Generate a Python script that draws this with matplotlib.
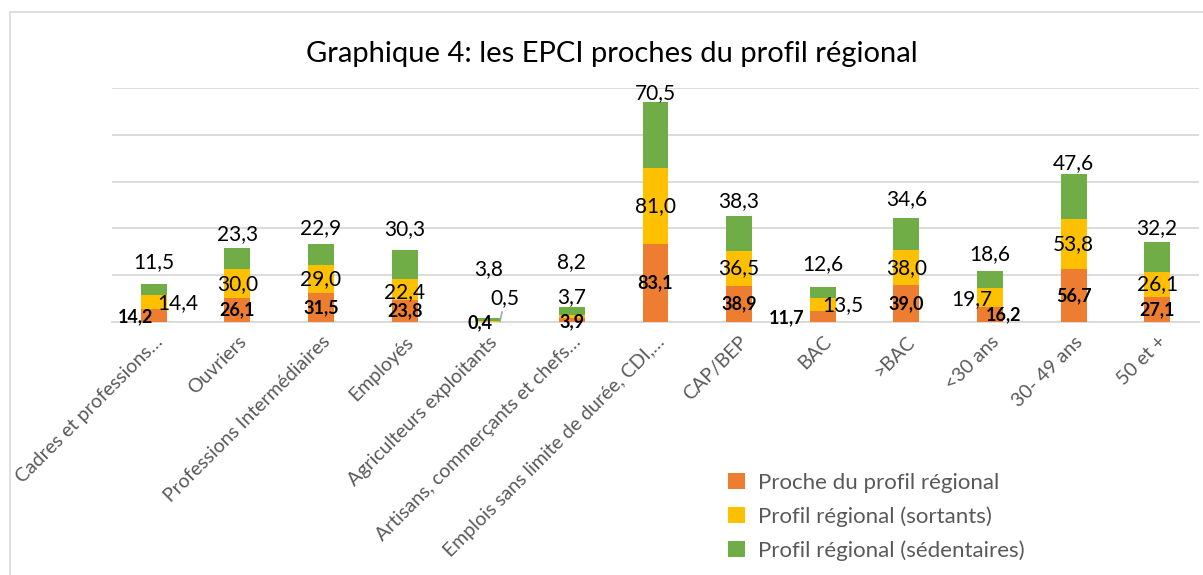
import matplotlib
matplotlib.use("Agg")
import matplotlib.pyplot as plt
from matplotlib.patches import Rectangle, Patch
import numpy as np

plt.rcParams['font.family'] = ['Lato', 'DejaVu Sans']

categories = ["Cadres et professions…", "Ouvriers", "Professions Intermédiaires", "Employés",
              "Agriculteurs exploitants", "Artisans, commerçants et chefs…",
              "Emplois sans limite de durée, CDI,…", "CAP/BEP", "BAC", ">BAC",
              "<30 ans", "30- 49 ans", "50 et +"]
proche = [14.2, 26.1, 31.5, 23.8, 0.4, 3.9, 83.1, 38.9, 11.7, 39.0, 16.2, 56.7, 27.1]
sortants = [14.4, 30.0, 29.0, 22.4, 0.5, 3.7, 81.0, 36.5, 13.5, 38.0, 19.7, 53.8, 26.1]
sedentaires = [11.5, 23.3, 22.9, 30.3, 3.8, 8.2, 70.5, 38.3, 12.6, 34.6, 18.6, 47.6, 32.2]
series_names = ["Proche du profil régional", "Profil régional (sortants)", "Profil régional (sédentaires)"]
colors = ["#ED7D31", "#FFC000", "#70AD47"]

# manual label displacements (pixels: dx right, dy down) for labels moved in the original
label_shift = {
    (0, 0): (-18, 1), (0, 1): (24, 1), (0, 2): (0, -8),
    (4, 0): (-8, 1), (4, 1): (5, -24), (4, 2): (0, -35),
    (5, 0): (0, 2), (5, 1): (0, -20), (5, 2): (0, -31),
    (8, 0): (-36, 1), (8, 1): (20, 0), (8, 2): (0, -9),
    (10, 0): (14, 0), (10, 1): (-18, 1), (10, 2): (0, -3),
    (1, 1): (0, 1), (3, 1): (0, 3), (3, 2): (0, -7), (2, 2): (0, -2),
    (6, 2): (0, 5), (9, 2): (0, -4), (11, 2): (0, 3),
}

W, H = 1203, 575
fig = plt.figure(figsize=(W / 100, H / 100), dpi=100)
fig.patches.append(Rectangle((10 / W, -0.1), 1.2, 1 - 12 / H + 0.1, transform=fig.transFigure,
                             fill=False, edgecolor="#D9D9D9", linewidth=1.2))

ax = fig.add_axes([112 / W, 1 - 322 / H, (1199 - 112) / W, (322 - 88) / H])
x = np.arange(len(categories))
width = 0.31
bottom = np.zeros(len(categories))
data = [proche, sortants, sedentaires]
for si, vals in enumerate(data):
    vals = np.array(vals)
    ax.bar(x, vals, width, bottom=bottom, color=colors[si], label=series_names[si], zorder=3)
    for i, v in enumerate(vals):
        txt = f"{v:.1f}".replace(".", ",")
        if si < 2:
            yv = bottom[i] + v / 2
            base_dy = 0
        else:
            yv = bottom[i] + v
            base_dy = -14
        dx, dy = label_shift.get((i, si), (0, 0))
        kw = dict(ha="center", va="center", fontsize=15 if si > 0 else 13,
                  fontweight="bold" if si == 0 else "normal", color="black", zorder=5,
                  textcoords="offset points")
        if (i, si) == (4, 1):
            ax.annotate(txt, xy=(i + 0.14, 0.3),
                        xytext=(dx * 0.72, -(dy + base_dy) * 0.72),
                        arrowprops=dict(arrowstyle="-", color="#A6A6A6", lw=1.2,
                                        shrinkA=1, shrinkB=0), **kw)
        else:
            ax.annotate(txt, xy=(i, yv), xytext=(dx * 0.72, -(dy + base_dy) * 0.72), **kw)
    bottom += vals

ax.set_ylim(0, 250)
ax.set_xlim(-0.5, len(categories) - 0.5)
ax.set_yticks(np.arange(0, 251, 50))
ax.yaxis.grid(True, color="#D9D9D9", linewidth=1.3, zorder=0)
ax.tick_params(axis="y", length=0, labelleft=False)
ax.tick_params(axis="x", length=0, pad=8, colors="#595959")
for s in ["top", "right", "left"]:
    ax.spines[s].set_visible(False)
ax.spines["bottom"].set_color("#D9D9D9")
ax.spines["bottom"].set_linewidth(1.3)
ax.set_xticks(x)
ax.set_xticklabels(categories, rotation=45, ha="right", rotation_mode="anchor",
                   fontsize=14, color="#595959")

fig.text(612 / W, 1 - 54 / H, "Graphique 4: les EPCI proches du profil régional",
         ha="center", va="center", fontsize=21, color="black")

handles = [Patch(facecolor=c, edgecolor="none") for c in colors]
fig.legend(handles, series_names, loc="upper left", bbox_to_anchor=(708 / W, 1 - 453 / H),
           frameon=False, fontsize=16, labelcolor="#595959", handlelength=0.75,
           handleheight=0.75, handletextpad=0.6, labelspacing=0.6)

fig.savefig("out.png", dpi=100)
